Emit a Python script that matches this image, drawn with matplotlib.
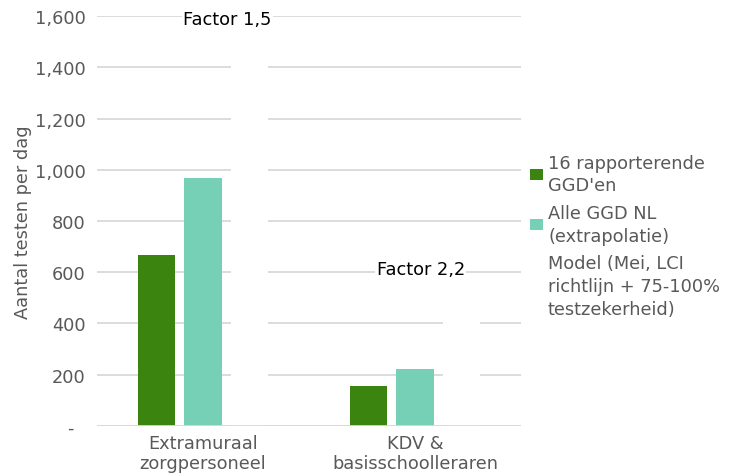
import matplotlib
matplotlib.use("Agg")
import matplotlib.pyplot as plt
import numpy as np
from matplotlib.patches import Rectangle

categories = ["Extramuraal\nzorgpersoneel", "KDV &\nbasisschoolleraren"]
series_names = ["16 rapporterende\nGGD'en", "Alle GGD NL\n(extrapolatie)",
                "Model (Mei, LCI\nrichtlijn + 75-100%\ntestzekerheid)"]
ggd16 = [668, 155]
alle_ggd = [967, 220]
model = [1455, 485]
factor_labels = ["Factor 1,5", "Factor 2,2"]
yticks = [0, 200, 400, 600, 800, 1000, 1200, 1400, 1600]
ytick_labels = ["-  ", "200", "400", "600", "800", "1,000", "1,200", "1,400", "1,600"]

colors = ["#3b840f", "#76d0b5", "#ffffff"]
gray = "#595959"
FS = 12.8

plt.rcParams['font.family'] = ['DejaVu Sans']
fig = plt.figure(figsize=(7.37, 4.77), dpi=100)
ax = fig.add_axes([97/737, 1-426.7/477, (521-97)/737, (426.7-17.3)/477])

x = np.arange(len(categories))
offs = [-0.22, 0, 0.22]
w = 0.175
for vals, off, c in zip([ggd16, alle_ggd, model], offs, colors):
    ax.bar(x + off, vals, width=w, color=c, zorder=2)

ax.axhline(0, color="#d9d9d9", linewidth=1.3, zorder=2.5)
ax.set_xlim(-0.5, 1.5)
ax.set_ylim(0, 1600)
ax.set_yticks(yticks)
ax.set_yticklabels(ytick_labels)
ax.set_xticks(x)
ax.set_xticklabels(categories, linespacing=1.15)
ax.tick_params(axis='both', length=0, labelsize=FS, labelcolor=gray)
ax.tick_params(axis='y', pad=8)
ax.tick_params(axis='x', pad=6)
ax.yaxis.grid(True, color="#d9d9d9", linewidth=1.3, zorder=0)
ax.set_axisbelow(True)
for s in ax.spines.values():
    s.set_visible(False)
ax.set_ylabel("Aantal testen per dag", fontsize=FS, color=gray, labelpad=2)

# factor annotations
ax.text(0.115, 1590, factor_labels[0], ha='center', va='center', fontsize=FS,
        color='black', zorder=3,
        bbox=dict(facecolor='white', edgecolor='none', pad=1))
ax.text(1.027, 612, factor_labels[1], ha='center', va='center', fontsize=FS,
        color='black', zorder=3,
        bbox=dict(facecolor='white', edgecolor='none', pad=1))

# legend (manual)
entries_y = [175, 225.5, 287]
for name, c, yc in zip(series_names, colors, entries_y):
    fig.text(548/737, 1-yc/477, name, ha='left', va='center', fontsize=FS,
             color=gray, linespacing=1.34)
    fig.patches.append(Rectangle((530/737, 1-(yc+5.5)/477), 13/737, 11/477,
                                 transform=fig.transFigure, facecolor=c,
                                 edgecolor='none'))

fig.savefig("out.png", dpi=100)
